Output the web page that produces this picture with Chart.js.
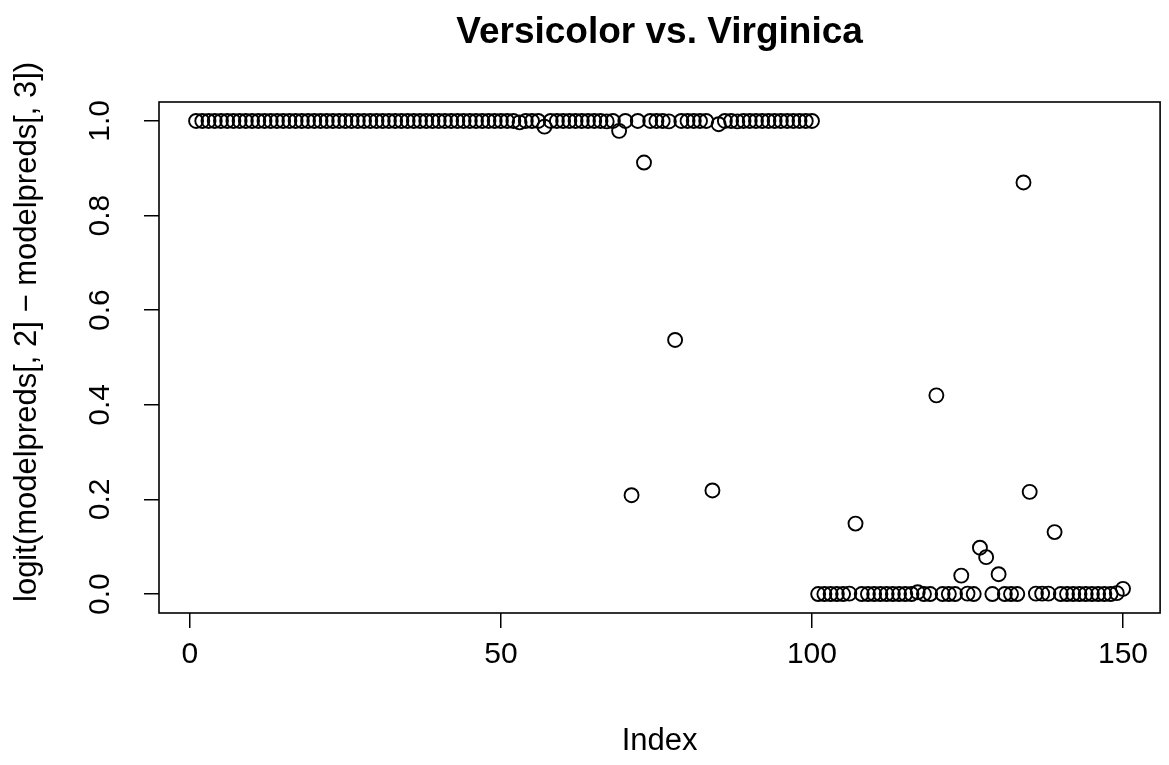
<!DOCTYPE html>
<html>
<head>
<meta charset="utf-8">
<script src="https://cdn.jsdelivr.net/npm/chart.js@4.4.1/dist/chart.umd.min.js"></script>
<style>
  html, body { margin: 0; padding: 0; background: #ffffff; }
  #wrap { width: 1169px; height: 765px; }
</style>
</head>
<body>
<div id="wrap"><canvas id="c" width="1169" height="765"></canvas></div>
<script>
// ---- data ----
const titleText = "Versicolor vs. Virginica";
const xAxisLabel = "Index";
const yAxisLabel = "logit(modelpreds[, 2] \u2212 modelpreds[, 3])";
const xTickValues = [0, 50, 100, 150];
const yTickValues = [0.0, 0.2, 0.4, 0.6, 0.8, 1.0];

// observations 1-50
const predsSetosa = [
  1.000, 1.000, 1.000, 1.000, 1.000, 1.000, 1.000, 1.000, 1.000, 1.000,
  1.000, 1.000, 1.000, 1.000, 1.000, 1.000, 1.000, 1.000, 1.000, 1.000,
  1.000, 1.000, 1.000, 1.000, 1.000, 1.000, 1.000, 1.000, 1.000, 1.000,
  1.000, 1.000, 1.000, 1.000, 1.000, 1.000, 1.000, 1.000, 1.000, 1.000,
  1.000, 1.000, 1.000, 1.000, 1.000, 1.000, 1.000, 1.000, 1.000, 1.000
];
// observations 51-100
const predsVersicolor = [
  1.000, 1.000, 0.997, 1.000, 1.000, 1.000, 0.988, 1.000, 1.000, 1.000,
  1.000, 1.000, 1.000, 1.000, 1.000, 1.000, 0.999, 1.000, 0.979, 1.000,
  0.209, 1.000, 0.912, 1.000, 1.000, 1.000, 0.999, 0.537, 1.000, 1.000,
  1.000, 1.000, 1.000, 0.219, 0.993, 1.000, 1.000, 0.999, 1.000, 1.000,
  1.000, 1.000, 1.000, 1.000, 1.000, 1.000, 1.000, 1.000, 1.000, 1.000
];
// observations 101-150
const predsVirginica = [
  0.000, 0.000, 0.000, 0.000, 0.000, 0.001, 0.149, 0.000, 0.000, 0.000,
  0.000, 0.000, 0.000, 0.000, 0.000, 0.000, 0.004, 0.000, 0.000, 0.420,
  0.000, 0.000, 0.000, 0.039, 0.001, 0.000, 0.098, 0.078, 0.000, 0.042,
  0.000, 0.000, 0.000, 0.870, 0.216, 0.001, 0.001, 0.001, 0.131, 0.000,
  0.000, 0.000, 0.000, 0.000, 0.000, 0.000, 0.000, 0.000, 0.002, 0.011
];

const allPreds = predsSetosa.concat(predsVersicolor, predsVirginica);
const points = allPreds.map((v, i) => ({ x: i + 1, y: v }));

const FONT = "'Liberation Sans', Arial, Helvetica, sans-serif";

// plot frame (R's box()) and the y-axis label, placed from the chart's own layout
const framePlugin = {
  id: 'plotFrame',
  afterDraw(chart) {
    const { ctx, chartArea: a } = chart;
    ctx.save();
    ctx.strokeStyle = '#000';
    ctx.lineWidth = 1.6;
    ctx.strokeRect(a.left, a.top, a.right - a.left, a.bottom - a.top);
    // y-axis label, rotated, starting near the bottom of the plot region
    ctx.fillStyle = '#000';
    ctx.font = "31px " + FONT;
    ctx.textAlign = 'left';
    ctx.textBaseline = 'middle';
    ctx.translate(27, a.bottom - 11);
    ctx.rotate(-Math.PI / 2);
    ctx.fillText(yAxisLabel, 0, 0);
    ctx.restore();
  }
};

new Chart(document.getElementById('c'), {
  type: 'scatter',
  data: {
    datasets: [{
      label: yAxisLabel,
      data: points,
      showLine: false,
      pointStyle: 'circle',
      pointRadius: 7,
      pointHoverRadius: 7,
      pointBorderWidth: 1.9,
      pointBorderColor: '#000000',
      pointBackgroundColor: 'rgba(0,0,0,0)'
    }]
  },
  options: {
    responsive: false,
    devicePixelRatio: 1,
    animation: false,
    events: [],
    layout: { padding: { left: 0, right: 1, top: 0, bottom: 0 } },
    plugins: {
      legend: { display: false },
      tooltip: { enabled: false },
      title: {
        display: true,
        text: titleText,
        fullSize: false,
        color: '#000',
        font: { family: FONT, size: 37, weight: 'bold', lineHeight: 1.2 },
        padding: { top: 10.5, bottom: 47.1 }
      }
    },
    scales: {
      x: {
        type: 'linear',
        position: 'bottom',
        min: -4.96,
        max: 155.96,
        afterBuildTicks(scale) { scale.ticks = xTickValues.map(v => ({ value: v })); },
        afterFit(scale) { scale.height = 152; scale.paddingLeft = 0; scale.paddingRight = 0; },
        grid: { display: true, drawOnChartArea: false, drawTicks: true, tickLength: 15, color: '#000', tickColor: '#000', lineWidth: 1.5, tickWidth: 1.5 },
        border: { display: false },
        ticks: {
          color: '#000',
          font: { family: FONT, size: 30, lineHeight: 1.2 },
          padding: 9,
          maxRotation: 0,
          autoSkip: false,
          callback: (v) => String(v)
        },
        title: {
          display: true,
          text: xAxisLabel,
          color: '#000',
          font: { family: FONT, size: 31, lineHeight: 1.2 },
          padding: { top: 0, bottom: 5.4 }
        }
      },
      y: {
        type: 'linear',
        position: 'left',
        min: -0.04,
        max: 1.04,
        afterBuildTicks(scale) { scale.ticks = yTickValues.map(v => ({ value: v })); },
        afterFit(scale) { scale.width = 159; scale.paddingTop = 0; scale.paddingBottom = 0; },
        grid: { display: true, drawOnChartArea: false, drawTicks: true, tickLength: 15, color: '#000', tickColor: '#000', lineWidth: 1.5, tickWidth: 1.5 },
        border: { display: false },
        ticks: {
          color: '#000',
          font: { family: FONT, size: 30, lineHeight: 1.2 },
          padding: 22.2,
          minRotation: 90,
          maxRotation: 90,
          crossAlign: 'center',
          autoSkip: false,
          callback: (v) => Number(v).toFixed(1)
        },
        title: { display: false }
      }
    }
  },
  plugins: [framePlugin]
});
</script>
</body>
</html>
